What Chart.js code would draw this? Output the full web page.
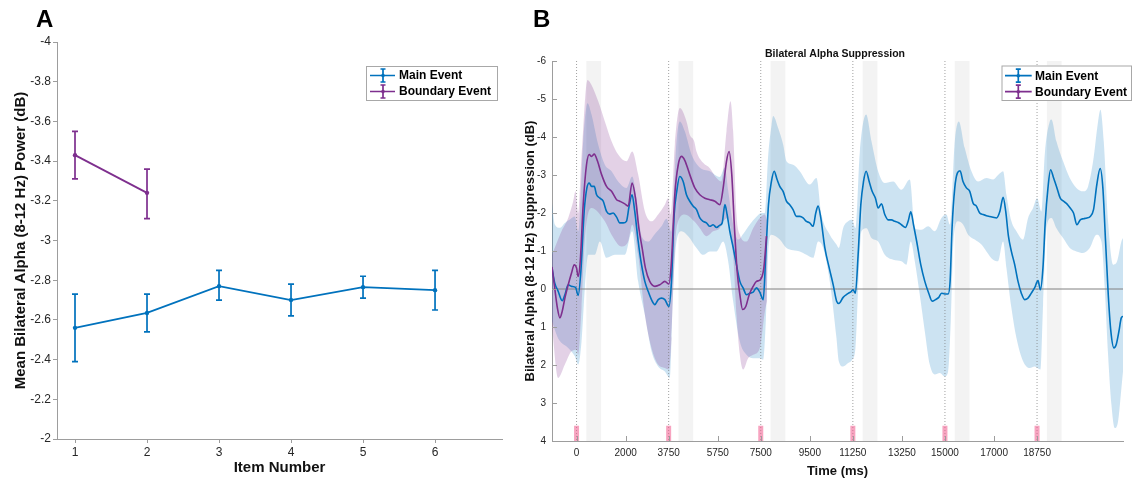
<!DOCTYPE html>
<html>
<head>
<meta charset="utf-8">
<script src="https://cdn.jsdelivr.net/npm/chart.js@4.4.1/dist/chart.umd.min.js"></script>
<style>
  html, body { margin:0; padding:0; background:#fff; }
  body { width:1132px; height:479px; overflow:hidden; position:relative; }
  canvas { position:absolute; top:0; }
</style>
</head>
<body>
<canvas id="chartA" width="520" height="479" style="left:0px"></canvas>
<canvas id="chartB" width="612" height="479" style="left:520px"></canvas>
<script>
// ---------------- DATA ----------------
// Panel A
const items = [1, 2, 3, 4, 5, 6];
const mainMeanA = [-2.56, -2.635, -2.77, -2.70, -2.765, -2.75];
const mainErrTopA = [-2.73, -2.73, -2.85, -2.78, -2.82, -2.85];
const mainErrBotA = [-2.39, -2.54, -2.70, -2.62, -2.71, -2.65];
const boundItems = [1, 2];
const boundMeanA = [-3.43, -3.24];
const boundErrTopA = [-3.55, -3.36];
const boundErrBotA = [-3.31, -3.11];
const itemTicks = [1, 2, 3, 4, 5, 6];

// Panel B  ([time ms, dB] pairs)
const timeTicks = [0, 2000, 3750, 5750, 7500, 9500, 11250, 13250, 15000, 17000, 18750];
const onsets = [0, 3750, 7500, 11250, 15000, 18750];
const shadeWindow = [400, 1000];

const mainMeanB = [[-1000,-0.55],[-890,-0.16],[-750,0.06],[-585,0.31],[-475,0.15],[-340,-0.11],[-205,-0.07],[-40,-0.04],[65,0.17],[175,-0.46],[310,-2.04],[420,-2.66],[515,-2.79],[610,-2.70],[720,-2.70],[815,-2.48],[950,-2.39],[1085,-2.31],[1220,-2.04],[1355,-1.97],[1490,-2.00],[1630,-1.89],[1760,-1.74],[1900,-1.74],[2030,-1.78],[2140,-2.18],[2260,-2.48],[2370,-2.04],[2510,-1.25],[2645,-0.64],[2780,-0.20],[2915,0.06],[3050,0.28],[3190,0.41],[3325,0.28],[3460,0.24],[3595,0.28],[3760,0.46],[3865,-0.20],[3975,-1.96],[4080,-2.57],[4200,-2.96],[4340,-2.83],[4475,-2.48],[4610,-2.31],[4750,-2.18],[4885,-2.09],[5020,-1.87],[5155,-1.78],[5290,-1.74],[5425,-1.65],[5560,-1.69],[5700,-1.62],[5835,-1.68],[5930,-1.74],[6040,-2.22],[6130,-1.96],[6240,-1.52],[6380,-1.08],[6510,-0.64],[6650,-0.20],[6780,-0.03],[6920,0.15],[7055,0.11],[7190,0.08],[7325,-0.03],[7460,0.08],[7600,0.28],[7705,-0.90],[7815,-2.22],[7935,-2.83],[8045,-3.10],[8165,-2.88],[8275,-2.70],[8410,-2.57],[8545,-2.31],[8680,-2.22],[8815,-2.09],[8950,-1.91],[9090,-1.91],[9225,-1.87],[9360,-1.78],[9495,-1.74],[9630,-1.65],[9740,-2.00],[9835,-2.18],[9945,-1.87],[10110,-1.08],[10290,-0.55],[10450,-0.11],[10590,0.32],[10680,0.38],[10855,0.22],[11030,0.13],[11195,0.06],[11260,0.02],[11355,0.11],[11465,-0.90],[11575,-2.22],[11685,-2.83],[11790,-3.10],[11915,-2.83],[12035,-2.57],[12170,-2.39],[12280,-2.13],[12415,-2.24],[12550,-1.96],[12685,-1.82],[12820,-1.82],[12960,-1.78],[13095,-1.75],[13230,-1.69],[13390,-1.62],[13500,-1.78],[13610,-2.03],[13720,-1.69],[13850,-1.25],[14015,-0.64],[14180,-0.20],[14340,0.11],[14480,0.32],[14615,0.28],[14750,0.22],[14860,0.11],[14990,0.13],[15130,0.13],[15210,-0.20],[15290,-1.61],[15400,-2.66],[15505,-3.05],[15615,-3.11],[15735,-2.83],[15875,-2.66],[16010,-2.57],[16145,-2.26],[16280,-2.18],[16415,-2.00],[16555,-1.96],[16690,-1.93],[16825,-1.91],[16960,-1.89],[17100,-1.87],[17235,-2.04],[17370,-2.41],[17475,-2.04],[17585,-1.39],[17705,-0.99],[17840,-0.64],[17975,-0.20],[18110,0.11],[18245,0.28],[18380,0.24],[18515,0.11],[18650,-0.03],[18790,-0.22],[18885,0.02],[18990,-0.55],[19085,-1.78],[19195,-2.66],[19300,-3.14],[19425,-2.92],[19560,-2.66],[19695,-2.39],[19830,-2.31],[19965,-2.24],[20100,-2.13],[20235,-2.00],[20375,-1.69],[20510,-1.82],[20645,-1.85],[20780,-1.87],[20915,-1.91],[21050,-2.09],[21185,-2.75],[21320,-3.17],[21430,-2.66],[21540,-1.25],[21650,0.15],[21755,1.11],[21880,1.55],[21975,1.46],[22085,1.11],[22180,0.76],[22250,0.72]];

const mainUpperB = [[-1000,-2.26],[-883,-1.69],[-680,-1.61],[-476,-1.74],[-273,-1.83],[-69,-1.91],[67,-1.52],[270,-3.89],[446,-4.89],[609,-4.59],[880,-3.80],[1152,-3.27],[1424,-3.10],[1695,-2.83],[2034,-2.66],[2265,-2.96],[2441,-2.39],[2645,-1.40],[2916,-1.25],[3188,-1.45],[3459,-1.65],[3663,-1.85],[3866,-1.50],[4070,-3.89],[4206,-4.41],[4409,-4.15],[4680,-3.54],[5019,-3.20],[5426,-3.10],[5833,-2.95],[6037,-3.20],[6173,-2.60],[6376,-1.70],[6580,-1.30],[6783,-1.45],[7055,-1.70],[7326,-1.90],[7530,-2.00],[7665,-2.00],[7801,-3.50],[7937,-4.30],[8005,-4.55],[8208,-4.24],[8412,-3.80],[8547,-3.36],[8819,-3.27],[9090,-3.10],[9497,-2.75],[9769,-2.92],[9972,-1.96],[10311,-1.43],[10583,-1.17],[10678,-1.08],[10854,-1.60],[11058,-1.78],[11221,-1.82],[11356,-1.60],[11533,-3.60],[11791,-4.59],[12008,-3.89],[12279,-3.10],[12551,-2.79],[12890,-2.83],[13229,-2.61],[13568,-2.88],[13772,-1.60],[14043,-1.56],[14315,-1.65],[14586,-1.52],[14857,-1.87],[15061,-1.96],[15197,-1.70],[15400,-3.89],[15563,-4.41],[15807,-3.71],[16079,-3.10],[16350,-2.83],[16689,-2.92],[16961,-2.88],[17164,-3.00],[17368,-3.10],[17504,-2.48],[17707,-1.78],[17911,-1.52],[18182,-1.30],[18386,-1.87],[18589,-2.13],[18752,-2.39],[18928,-2.04],[19064,-3.54],[19268,-4.41],[19336,-4.46],[19539,-3.89],[19811,-3.36],[20082,-2.92],[20353,-2.66],[20625,-2.57],[20828,-2.70],[21032,-3.36],[21235,-4.41],[21330,-4.72],[21466,-3.89],[21642,-1.78],[21846,-0.64],[22009,-0.73],[22185,-1.25],[22250,-1.34]];

const mainLowerB = [[-1000,0.85],[-748,1.30],[-341,1.55],[-69,1.77],[67,1.99],[202,1.38],[338,-0.03],[474,-0.90],[745,-0.90],[949,-1.25],[1220,-0.82],[1559,-0.90],[1966,-0.90],[2265,-1.52],[2509,-0.20],[2781,0.68],[3052,1.64],[3323,2.04],[3595,2.17],[3798,2.34],[3934,-0.03],[4070,-1.25],[4273,-1.52],[4545,-1.39],[4883,-1.08],[5155,-0.90],[5426,-0.99],[5698,-0.99],[5969,-1.25],[6173,-0.73],[6376,0.32],[6648,1.38],[6919,1.73],[7190,1.82],[7462,1.82],[7597,1.86],[7706,0.85],[7815,-1.08],[7937,-1.43],[8276,-1.30],[8547,-1.08],[9090,-0.99],[9362,-0.90],[9633,-0.82],[9836,-1.25],[10040,-1.08],[10311,-0.20],[10583,1.29],[10678,1.90],[10854,2.04],[11058,1.95],[11221,1.86],[11356,1.55],[11465,0.00],[11601,-1.52],[11804,-1.60],[12008,-1.34],[12279,-1.25],[12551,-0.90],[12890,-0.77],[13229,-0.73],[13433,-0.64],[13609,-1.25],[13772,-0.73],[13975,0.15],[14179,1.11],[14382,1.99],[14586,2.25],[14790,2.21],[14993,2.30],[15129,2.17],[15237,0.85],[15346,-1.25],[15536,-1.78],[15739,-1.70],[15943,-1.43],[16214,-1.30],[16486,-1.17],[16689,-0.99],[16961,-0.77],[17164,-0.73],[17368,-1.25],[17504,-0.55],[17707,0.50],[17911,1.29],[18182,1.90],[18454,2.08],[18657,2.04],[18888,2.12],[18996,0.41],[19132,-1.60],[19336,-1.87],[19539,-1.60],[19811,-1.34],[20082,-1.08],[20353,-0.99],[20625,-0.95],[20896,-1.08],[21168,-1.43],[21371,-1.25],[21507,-0.03],[21642,1.73],[21778,3.04],[21914,3.66],[22050,3.48],[22185,2.61],[22250,2.17]];

const boundMeanB = [[-1000,-0.58],[-890,-0.03],[-780,0.50],[-680,0.76],[-585,0.59],[-475,0.24],[-340,-0.11],[-205,-0.42],[-95,-0.64],[0,-0.55],[65,-0.33],[150,-0.73],[270,-2.22],[405,-3.27],[515,-3.54],[610,-3.49],[720,-3.55],[855,-3.36],[1020,-3.01],[1220,-2.70],[1425,-2.57],[1630,-2.35],[1760,-2.31],[1965,-2.24],[2100,-2.18],[2260,-2.79],[2400,-2.39],[2535,-1.61],[2670,-1.08],[2805,-0.55],[2980,-0.20],[3190,-0.07],[3390,-0.11],[3595,-0.20],[3760,-0.13],[3865,-0.73],[4000,-2.48],[4140,-3.27],[4275,-3.49],[4410,-3.38],[4610,-3.01],[4815,-2.66],[5020,-2.48],[5225,-2.39],[5425,-2.35],[5630,-2.31],[5835,-2.22],[5970,-2.66],[6105,-3.36],[6210,-3.62],[6320,-3.01],[6430,-1.61],[6540,-0.46],[6650,0.15],[6760,0.54],[6890,0.46],[7030,0.15],[7190,-0.07],[7325,-0.20],[7490,-0.25],[7625,-0.55],[7735,-1.39]];

const boundUpperB = [[-1000,-0.90],[-612,-1.52],[-341,-1.87],[-137,-2.31],[-42,-2.57],[67,-2.00],[202,-3.50],[446,-5.50],[609,-5.37],[881,-4.94],[1152,-4.41],[1424,-3.89],[1695,-3.54],[2034,-3.36],[2265,-3.62],[2509,-3.01],[2781,-2.04],[3052,-1.78],[3323,-1.96],[3595,-2.22],[3730,-2.39],[3839,-1.96],[4002,-3.80],[4206,-4.76],[4477,-4.41],[4612,-4.06],[4789,-3.89],[4883,-3.62],[5155,-3.32],[5426,-3.18],[5698,-2.92],[5901,-2.83],[6105,-4.15],[6268,-4.94],[6376,-4.15],[6512,-1.96],[6648,-1.43],[6919,-1.25],[7190,-1.60],[7462,-1.87],[7665,-1.96],[7760,-1.80]];

const boundLowerB = [[-1000,1.00],[-748,2.34],[-476,1.99],[-205,1.64],[0,1.60],[67,1.73],[202,0.50],[338,-1.30],[609,-2.13],[1152,-1.78],[1424,-1.43],[1831,-1.12],[2102,-1.25],[2265,-1.69],[2509,-0.90],[2781,0.68],[3052,1.55],[3323,1.99],[3595,2.08],[3758,2.12],[3866,1.30],[4070,-1.60],[4409,-1.96],[4789,-1.78],[5019,-1.60],[5291,-1.39],[5562,-1.52],[5833,-1.60],[5969,-1.78],[6173,-1.87],[6376,-0.90],[6512,0.68],[6648,1.73],[6783,2.12],[6987,1.82],[7190,1.73],[7462,1.55],[7665,0.60],[7760,0.30]];

// ---------------- STYLE ----------------
const FONT = "'Liberation Sans', Arial, Helvetica, sans-serif";
const BLUE = '#0072BD';
const PURPLE = '#7E2F8E';
const AXIS = '#9d9d9d';
const TICKTXT = '#262626';
Chart.defaults.font.family = FONT;
Chart.defaults.color = TICKTXT;

const toXY = arr => arr.map(([x, y]) => ({x, y}));
const fmt1 = v => String(Math.round(v * 10) / 10);

function drawLegend(ctx, box, rows, icon, tx) {
  ctx.save();
  ctx.fillStyle = '#fff';
  ctx.fillRect(box.x, box.y, box.w, box.h);
  ctx.strokeStyle = '#a8a8a8';
  ctx.lineWidth = 1;
  ctx.strokeRect(box.x + 0.5, box.y + 0.5, box.w, box.h);
  rows.forEach(r => {
    ctx.strokeStyle = r.color;
    ctx.fillStyle = r.color;
    ctx.lineWidth = 1.7;
    ctx.beginPath();
    ctx.moveTo(icon.x0, r.y); ctx.lineTo(icon.x1, r.y);
    ctx.moveTo(icon.xm, r.y - 6.5); ctx.lineTo(icon.xm, r.y + 6.5);
    ctx.moveTo(icon.xm - 2.5, r.y - 6.5); ctx.lineTo(icon.xm + 2.5, r.y - 6.5);
    ctx.moveTo(icon.xm - 2.5, r.y + 6.5); ctx.lineTo(icon.xm + 2.5, r.y + 6.5);
    ctx.stroke();
    ctx.beginPath(); ctx.arc(icon.xm, r.y, 1.8, 0, Math.PI * 2); ctx.fill();
    ctx.fillStyle = '#000';
    ctx.font = 'bold 12px ' + FONT;
    ctx.textAlign = 'left';
    ctx.textBaseline = 'middle';
    ctx.fillText(r.label, tx, r.y + 0.5);
  });
  ctx.restore();
}

// ---------------- PANEL A ----------------
const errorBarsA = {
  id: 'errorBarsA',
  afterDatasetsDraw(chart) {
    const {ctx, scales: {x, y}} = chart;
    const series = [
      {xs: items, top: mainErrTopA, bot: mainErrBotA, color: BLUE},
      {xs: boundItems, top: boundErrTopA, bot: boundErrBotA, color: PURPLE}
    ];
    ctx.save();
    ctx.lineWidth = 1.7;
    series.forEach(s => {
      ctx.strokeStyle = s.color;
      s.xs.forEach((xv, i) => {
        const px = x.getPixelForValue(xv);
        const p1 = y.getPixelForValue(s.top[i]);
        const p2 = y.getPixelForValue(s.bot[i]);
        ctx.beginPath();
        ctx.moveTo(px, p1); ctx.lineTo(px, p2);
        ctx.moveTo(px - 3, p1); ctx.lineTo(px + 3, p1);
        ctx.moveTo(px - 3, p2); ctx.lineTo(px + 3, p2);
        ctx.stroke();
      });
    });
    ctx.restore();
  },
  afterDraw(chart) {
    const ctx = chart.ctx;
    drawLegend(ctx, {x: 366, y: 66, w: 131, h: 34},
      [{label: 'Main Event', color: BLUE, y: 75.5}, {label: 'Boundary Event', color: PURPLE, y: 91.5}],
      {x0: 370, x1: 395, xm: 383}, 399);
    ctx.save();
    ctx.fillStyle = '#000';
    ctx.font = 'bold 24px ' + FONT;
    ctx.textAlign = 'left';
    ctx.textBaseline = 'alphabetic';
    ctx.fillText('A', 36, 27);
    ctx.restore();
  }
};

new Chart(document.getElementById('chartA'), {
  type: 'line',
  data: {
    datasets: [
      {data: items.map((v, i) => ({x: v, y: mainMeanA[i]})), borderColor: BLUE, backgroundColor: BLUE,
       borderWidth: 1.8, pointRadius: 2.2, pointBorderWidth: 0, pointBackgroundColor: BLUE, tension: 0},
      {data: boundItems.map((v, i) => ({x: v, y: boundMeanA[i]})), borderColor: PURPLE, backgroundColor: PURPLE,
       borderWidth: 1.8, pointRadius: 2.2, pointBorderWidth: 0, pointBackgroundColor: PURPLE, tension: 0}
    ]
  },
  options: {
    responsive: false, animation: false, devicePixelRatio: 1, events: [],
    layout: {padding: {left: 0, top: 42, right: 18, bottom: 0}},
    plugins: {legend: {display: false}, tooltip: {enabled: false}},
    scales: {
      x: {
        type: 'linear', min: 0.75, max: 6.93,
        afterBuildTicks: s => { s.ticks = itemTicks.map(v => ({value: v})); },
        afterFit: s => { s.height = 40; },
        grid: {display: true, drawOnChartArea: false, drawTicks: true, tickLength: 4, color: AXIS},
        border: {display: true, color: AXIS, width: 1},
        ticks: {font: {size: 12}, color: TICKTXT, padding: 2, maxRotation: 0, autoSkip: false, callback: v => String(v)},
        title: {display: true, text: 'Item Number', color: '#111', font: {size: 15, weight: 'bold'}, padding: {top: 0, bottom: 2}}
      },
      y: {
        type: 'linear', min: -4, max: -2, reverse: true,
        afterFit: s => { s.width = 57; },
        grid: {display: true, drawOnChartArea: false, drawTicks: true, tickLength: 4, color: AXIS},
        border: {display: true, color: AXIS, width: 1},
        ticks: {stepSize: 0.2, font: {size: 12}, color: TICKTXT, padding: 2, callback: v => fmt1(v)},
        title: {display: true, text: 'Mean Bilateral Alpha (8-12 Hz) Power (dB)', color: '#111', font: {size: 15, weight: 'bold'}, padding: {top: 11.5, bottom: 0}}
      }
    }
  },
  plugins: [errorBarsA]
});

// ---------------- PANEL B ----------------
const decorB = {
  id: 'decorB',
  beforeDatasetsDraw(chart) {
    const {ctx, chartArea: ca, scales: {x}} = chart;
    ctx.save();
    ctx.fillStyle = '#f3f3f3';
    onsets.forEach(o => {
      const x1 = x.getPixelForValue(o + shadeWindow[0]);
      const x2 = x.getPixelForValue(o + shadeWindow[1]);
      ctx.fillRect(x1, ca.top, x2 - x1, ca.bottom - ca.top);
    });
    ctx.restore();
  },
  afterDraw(chart) {
    const {ctx, chartArea: ca, scales: {x, y}} = chart;
    ctx.save();
    // inward tick marks
    ctx.strokeStyle = AXIS;
    ctx.lineWidth = 1;
    ctx.beginPath();
    x.ticks.forEach(t => {
      const px = Math.round(x.getPixelForValue(t.value)) + 0.5;
      ctx.moveTo(px, ca.bottom); ctx.lineTo(px, ca.bottom - 5);
    });
    y.ticks.forEach(t => {
      const py = Math.round(y.getPixelForValue(t.value)) + 0.5;
      ctx.moveTo(ca.left, py); ctx.lineTo(ca.left + 5, py);
    });
    ctx.stroke();
    // title
    ctx.fillStyle = '#111';
    ctx.font = 'bold 10.5px ' + FONT;
    ctx.textAlign = 'center';
    ctx.textBaseline = 'middle';
    ctx.fillText('Bilateral Alpha Suppression', 315, 54);
    // panel label
    ctx.fillStyle = '#000';
    ctx.font = 'bold 24px ' + FONT;
    ctx.textAlign = 'left';
    ctx.textBaseline = 'alphabetic';
    ctx.fillText('B', 13, 27);
    ctx.restore();
    drawLegend(ctx, {x: 481.5, y: 65.5, w: 129.5, h: 34.5},
      [{label: 'Main Event', color: BLUE, y: 75.7}, {label: 'Boundary Event', color: PURPLE, y: 91.7}],
      {x0: 485, x1: 511.7, xm: 498.3}, 515);
  }
};

// dotted onset lines and pink onset markers, built from the onsets
const onsetLines = [];
const onsetMarks = [];
onsets.forEach(o => {
  onsetLines.push({x: o, y: -6}, {x: o, y: 4}, {x: o, y: null});
  onsetMarks.push({x: o, y: 3.6}, {x: o, y: 4}, {x: o, y: null});
});

const edge = {borderWidth: 0, borderColor: 'rgba(0,0,0,0)', pointRadius: 0, cubicInterpolationMode: 'monotone'};

new Chart(document.getElementById('chartB'), {
  type: 'line',
  data: {
    datasets: [
      Object.assign({data: toXY(mainUpperB), fill: '+1', backgroundColor: 'rgba(0,114,189,0.2)', order: 10}, edge),
      Object.assign({data: toXY(mainLowerB), fill: false, order: 10}, edge),
      Object.assign({data: toXY(boundUpperB), fill: '+1', backgroundColor: 'rgba(126,47,142,0.22)', order: 9}, edge),
      Object.assign({data: toXY(boundLowerB), fill: false, order: 9}, edge),
      {data: [{x: -1000, y: 0}, {x: 22250, y: 0}], borderColor: '#808080', borderWidth: 1, pointRadius: 0, fill: false, order: 8},
      {data: onsetLines, borderColor: 'rgba(120,120,120,0.7)', borderWidth: 1, borderDash: [1, 2], pointRadius: 0, fill: false, spanGaps: false, order: 7},
      {data: onsetMarks, borderColor: 'rgba(240,90,140,0.55)', borderWidth: 5, borderCapStyle: 'butt', pointRadius: 0, fill: false, spanGaps: false, order: 6},
      {data: toXY(mainMeanB), borderColor: BLUE, borderWidth: 1.6, pointRadius: 0, fill: false, cubicInterpolationMode: 'monotone', order: 2},
      {data: toXY(boundMeanB), borderColor: PURPLE, borderWidth: 1.6, pointRadius: 0, fill: false, cubicInterpolationMode: 'monotone', order: 1}
    ]
  },
  options: {
    responsive: false, animation: false, devicePixelRatio: 1, events: [],
    layout: {padding: {left: 0, top: 61, right: 9, bottom: 0}},
    plugins: {legend: {display: false}, tooltip: {enabled: false}},
    scales: {
      x: {
        type: 'linear', min: -1000, max: 22250,
        afterBuildTicks: s => { s.ticks = timeTicks.map(v => ({value: v})); },
        afterFit: s => { s.height = 38; },
        grid: {display: false, drawTicks: false},
        border: {display: true, color: AXIS, width: 1},
        ticks: {font: {size: 10}, color: TICKTXT, padding: 6, maxRotation: 0, autoSkip: false, callback: v => String(v)},
        title: {display: true, text: 'Time (ms)', color: '#111', font: {size: 13, weight: 'bold'}, padding: {top: 0, bottom: 0}}
      },
      y: {
        type: 'linear', min: -6, max: 4, reverse: true,
        afterFit: s => { s.width = 32; },
        grid: {display: false, drawTicks: false},
        border: {display: true, color: AXIS, width: 1},
        ticks: {stepSize: 1, font: {size: 10}, color: TICKTXT, padding: 6, callback: v => String(v)},
        title: {display: true, text: 'Bilateral Alpha (8-12 Hz) Suppression (dB)', color: '#111', font: {size: 13, weight: 'bold'}, padding: {top: 2.2, bottom: 0}}
      }
    }
  },
  plugins: [decorB]
});
</script>
</body>
</html>
